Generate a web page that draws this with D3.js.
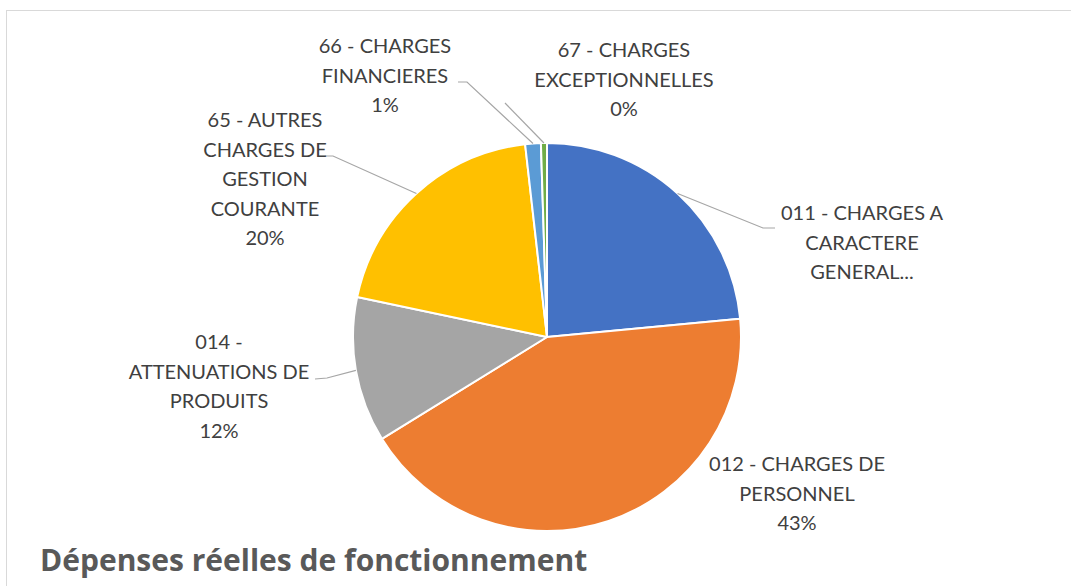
<!DOCTYPE html>
<html>
<head>
<meta charset="utf-8">
<script src="https://cdn.jsdelivr.net/npm/d3@7"></script>
<style>
  body { margin: 0; background: #fff; }
  svg { display: block; }
</style>
</head>
<body>
<div class="chart"></div>
<script>
// data
let categories = [
    "011 - CHARGES A CARACTERE GENERAL",
    "012 - CHARGES DE PERSONNEL",
    "014 - ATTENUATIONS DE PRODUITS",
    "65 - AUTRES CHARGES DE GESTION COURANTE",
    "66 - CHARGES FINANCIERES",
    "67 - CHARGES EXCEPTIONNELLES"
]
let values = [23.5, 42.7, 12.1, 19.9, 1.3, 0.5]
let labelLines = [
    ["011 - CHARGES A", "CARACTERE", "GENERAL..."],
    ["012 - CHARGES DE", "PERSONNEL", "43%"],
    ["014 -", "ATTENUATIONS DE", "PRODUITS", "12%"],
    ["65 - AUTRES", "CHARGES DE", "GESTION", "COURANTE", "20%"],
    ["66 - CHARGES", "FINANCIERES", "1%"],
    ["67 - CHARGES", "EXCEPTIONNELLES", "0%"]
]
let colors = ["#4472C4", "#ED7D31", "#A5A5A5", "#FFC000", "#5B9BD5", "#70AD47"]

// label layout: text center x, first line y, leader elbow + end (null = no leader)
let labelLayout = [
    {x: 862, y: 213, elbow: [763, 228], end: [775, 228]},
    {x: 797, y: 464, elbow: null, end: null},
    {x: 219, y: 342, elbow: [327, 378], end: [315, 379]},
    {x: 265, y: 120, elbow: [333, 156], end: [325, 156]},
    {x: 385, y: 46, elbow: [467, 82], end: [458, 82]},
    {x: 624, y: 50, elbow: [505, 103], end: [505, 103]}
]

let svgWidth = 1071
let svgHeight = 586
let cx = 547, cy = 337, radius = 194

let svg = d3.select('.chart')
    .append('svg')
    .attr('width', svgWidth)
    .attr('height', svgHeight)

// chart frame (only top and left edges visible)
svg.append('line')
    .attr('x1', 6).attr('y1', 10.5).attr('x2', svgWidth).attr('y2', 10.5)
    .attr('stroke', '#d9d9d9').attr('stroke-width', 1)
svg.append('line')
    .attr('x1', 6.5).attr('y1', 10).attr('x2', 6.5).attr('y2', svgHeight)
    .attr('stroke', '#d9d9d9').attr('stroke-width', 1)

let pie = d3.pie().sort(null).value(d => d)
let arcs = pie(values)

let arc = d3.arc().innerRadius(0).outerRadius(radius)
let edge = d3.arc().innerRadius(radius).outerRadius(radius)

let g = svg.append('g')
    .attr('transform', `translate(${cx},${cy})`)

g.selectAll('path')
    .data(arcs)
    .join('path')
    .attr('d', arc)
    .attr('fill', (d, i) => colors[i])
    .attr('stroke', '#fff')
    .attr('stroke-width', 2)
    .attr('stroke-linejoin', 'round')

// leader lines
svg.selectAll('.leader')
    .data(arcs.filter((d, i) => labelLayout[i].elbow))
    .join('polyline')
    .attr('class', 'leader')
    .attr('fill', 'none')
    .attr('stroke', '#a6a6a6')
    .attr('stroke-width', 1.2)
    .attr('points', d => {
        let p = edge.centroid(d)
        let l = labelLayout[d.index]
        return [[cx + p[0], cy + p[1]], l.elbow, l.end].map(q => q.join(',')).join(' ')
    })

// labels
let labels = svg.selectAll('.label')
    .data(labelLines)
    .join('text')
    .attr('class', 'label')
    .attr('text-anchor', 'middle')
    .attr('font-family', 'Lato, "Open Sans", sans-serif')
    .attr('font-size', 20)
    .attr('fill', '#404040')

labels.selectAll('tspan')
    .data((d, i) => d.map(t => ({t, i})))
    .join('tspan')
    .attr('x', d => labelLayout[d.i].x)
    .attr('y', (d, j) => labelLayout[d.i].y + j * 29.5)
    .attr('dy', '0.35em')
    .text(d => d.t)

// title
svg.append('text')
    .attr('x', 40)
    .attr('y', 571)
    .attr('font-family', '"Open Sans", sans-serif')
    .attr('font-weight', 'bold')
    .attr('font-size', 30)
    .attr('fill', '#595959')
    .text('Dépenses réelles de fonctionnement')
</script>
</body>
</html>
